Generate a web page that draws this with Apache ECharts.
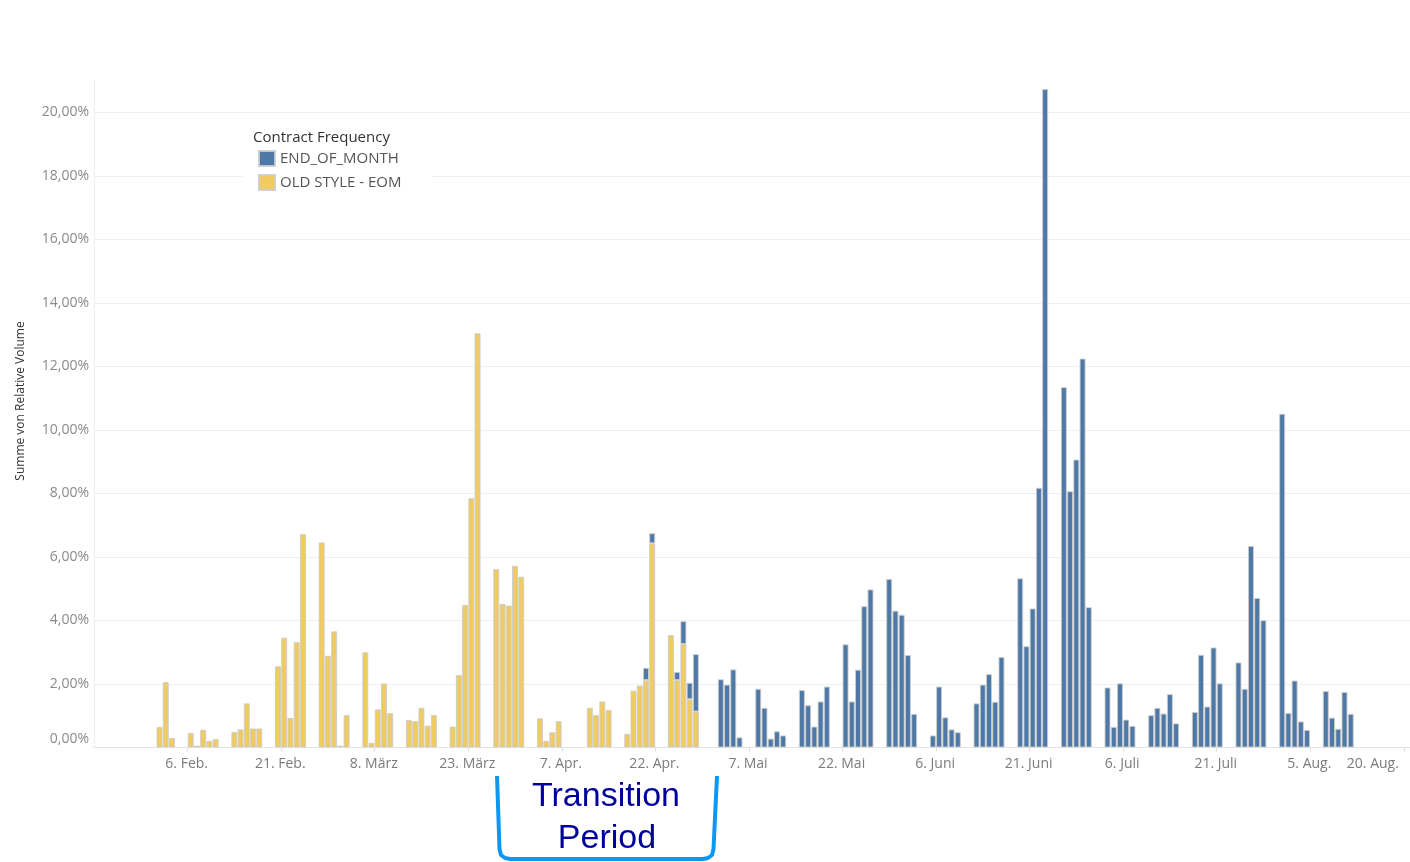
<!DOCTYPE html>
<html>
<head>
<meta charset="utf-8">
<title>Relative Volume by Contract Frequency</title>
<script src="https://cdn.jsdelivr.net/npm/echarts@6/dist/echarts.min.js"></script>
<style>
  html, body { margin: 0; padding: 0; background: #fff; }
  #chart { width: 1410px; height: 862px; }
</style>
</head>
<body>
<div id="chart"></div>
<script>
// trading days (2023), holidays 7.4, 10.4, 1.5 have no bars
const year = 2023;
const dates = [
  '02-01', '02-02', '02-03', '02-06', '02-07', '02-08', '02-09', '02-10',
  '02-13', '02-14', '02-15', '02-16', '02-17', '02-20', '02-21', '02-22', '02-23', '02-24',
  '02-27', '02-28', '03-01', '03-02', '03-03', '03-06', '03-07', '03-08', '03-09', '03-10',
  '03-13', '03-14', '03-15', '03-16', '03-17', '03-20', '03-21', '03-22', '03-23', '03-24',
  '03-27', '03-28', '03-29', '03-30', '03-31', '04-03', '04-04', '04-05', '04-06',
  '04-11', '04-12', '04-13', '04-14', '04-17', '04-18', '04-19', '04-20', '04-21',
  '04-24', '04-25', '04-26', '04-27', '04-28', '05-02', '05-03', '05-04', '05-05',
  '05-08', '05-09', '05-10', '05-11', '05-12', '05-15', '05-16', '05-17', '05-18', '05-19',
  '05-22', '05-23', '05-24', '05-25', '05-26', '05-29', '05-30', '05-31', '06-01', '06-02',
  '06-05', '06-06', '06-07', '06-08', '06-09', '06-12', '06-13', '06-14', '06-15', '06-16',
  '06-19', '06-20', '06-21', '06-22', '06-23', '06-26', '06-27', '06-28', '06-29', '06-30',
  '07-03', '07-04', '07-05', '07-06', '07-07', '07-10', '07-11', '07-12', '07-13', '07-14',
  '07-17', '07-18', '07-19', '07-20', '07-21', '07-24', '07-25', '07-26', '07-27', '07-28',
  '07-31', '08-01', '08-02', '08-03', '08-04', '08-07', '08-08', '08-09', '08-10', '08-11'
];

// OLD STYLE - EOM, in %, 1.2. to 28.4. (nothing after)
const oldStyle = [
  0.65, 2.06, 0.30, 0.46, 0.06, 0.56, 0.21, 0.27,
  0.49, 0.57, 1.39, 0.60, 0.60, 2.56, 3.46, 0.93, 3.32, 6.72,
  6.46, 2.89, 3.66, 0.06, 1.02, 3.00, 0.15, 1.20, 2.02, 1.08,
  0.87, 0.83, 1.25, 0.69, 1.02, 0.66, 2.28, 4.49, 7.85, 13.05,
  5.62, 4.52, 4.47, 5.72, 5.38, 0.92, 0.21, 0.48, 0.83,
  1.25, 1.02, 1.45, 1.18, 0.43, 1.79, 1.95, 2.12, 6.43,
  3.54, 2.12, 3.26, 1.52, 1.13
];

// END_OF_MONTH, in %, starts 20.4.
const endOfMonth = [
  null, null, null, null, null, null, null, null,
  null, null, null, null, null, null, null, null, null, null,
  null, null, null, null, null, null, null, null, null, null,
  null, null, null, null, null, null, null, null, null, null,
  null, null, null, null, null, null, null, null, null,
  null, null, null, null, null, null, null, 0.39, 0.32,
  null, 0.26, 0.72, 0.52, 1.81, 2.15, 1.98, 2.46, 0.32,
  1.85, 1.25, 0.28, 0.51, 0.38, 1.81, 1.33, 0.66, 1.45, 1.92,
  3.25, 1.45, 2.45, 4.45, 4.98, 5.31, 4.31, 4.18, 2.91, 1.06,
  0.38, 1.92, 0.95, 0.57, 0.48, 1.39, 1.98, 2.31, 1.44, 2.85,
  5.33, 3.19, 4.38, 8.18, 20.74, 11.35, 8.07, 9.07, 12.25, 4.42,
  1.89, 0.65, 2.02, 0.88, 0.68, 1.02, 1.25, 1.07, 1.68, 0.76,
  1.12, 2.92, 1.29, 3.15, 2.02, 2.68, 1.85, 6.35, 4.71, 4.01,
  10.51, 1.09, 2.11, 0.82, 0.55, 1.78, 0.94, 0.59, 1.75, 1.06
];

// axis: one category per calendar day, 22.1. to 20.8., label every 15 days from 6.2.
const axisStart = Date.UTC(year, 0, 22);
const axisDays = 211;
const firstTick = 15;   // index of 6. Feb.
const tickStep = 15;
const monthNames = ['Jan.', 'Feb.', 'März', 'Apr.', 'Mai', 'Juni', 'Juli', 'Aug.', 'Sept.', 'Okt.', 'Nov.', 'Dez.'];

const FONT = '"Open Sans", "DejaVu Sans", sans-serif';
const BLUE = '#4e79a7';
const YELLOW = '#efcb62';

function dayIndex(md) {
  const [m, d] = md.split('-').map(Number);
  return Math.round((Date.UTC(year, m - 1, d) - axisStart) / 864e5);
}

const days = [];
for (let i = 0; i < axisDays; i++) {
  const dt = new Date(axisStart + i * 864e5);
  days.push(dt.getUTCDate() + '. ' + monthNames[dt.getUTCMonth()]);
}

// spread the trading-day values over the calendar axis
const oldData = new Array(axisDays).fill(null);
const eomData = new Array(axisDays).fill(null);
dates.forEach((d, i) => {
  const k = dayIndex(d);
  if (oldStyle[i] != null) oldData[k] = oldStyle[i];
  if (endOfMonth[i] != null) eomData[k] = endOfMonth[i];
});

const showTick = idx => idx >= firstTick && (idx - firstTick) % tickStep === 0;

function fmtPct(v) {
  if (v % 2 !== 0) return '';
  const s = v.toFixed(2).replace('.', ',') + '%';
  return v === 0 ? '{low|' + s + '}' : s;
}

const chart = echarts.init(document.getElementById('chart'));

const barStyle = color => ({
  color: color,
  borderColor: 'rgba(205,205,205,0.9)',
  borderWidth: 1
});

const textEl = (text, x, y, font, fill) => ({
  type: 'text',
  x: x,
  y: y,
  style: {
    text: text,
    fill: fill,
    font: font,
    textAlign: 'center',
    textVerticalAlign: 'middle',
    align: 'center',
    verticalAlign: 'middle'
  }
});

const yTitle = textEl('Summe von Relative Volume', 21, 401, '12px ' + FONT, '#333');
yTitle.rotation = Math.PI / 2;

const option = {
  animation: false,
  textStyle: { fontFamily: FONT },
  title: {
    text: 'Contract Frequency',
    left: 248,
    top: 125,
    textStyle: { fontSize: 15, fontWeight: 'normal', color: '#333', fontFamily: FONT }
  },
  legend: {
    orient: 'vertical',
    left: 243,
    top: 120,
    padding: [30, 30, 6, 15],
    backgroundColor: '#fff',
    itemWidth: 16,
    itemHeight: 15,
    itemGap: 7,
    icon: 'rect',
    data: ['END_OF_MONTH', 'OLD STYLE - EOM'],
    textStyle: { fontSize: 15, color: '#555', fontFamily: FONT }
  },
  grid: { left: 94, right: 0, top: 80.75, bottom: 114.5, containLabel: false, outerBoundsMode: 'none' },
  xAxis: {
    type: 'category',
    data: days,
    boundaryGap: true,
    axisLine: { show: true, lineStyle: { color: '#e4e4e4' } },
    axisTick: { show: true, length: 4, interval: showTick, alignWithLabel: false, lineStyle: { color: '#ddd' } },
    splitLine: { show: false },
    axisLabel: {
      interval: showTick,
      alignMaxLabel: 'right',
      color: '#7b7b7b',
      fontSize: 14,
      margin: 10,
      padding: [0, 8, 0, 0],
      fontFamily: FONT
    }
  },
  yAxis: {
    type: 'value',
    min: 0,
    max: 21,
    interval: 2,
    axisLine: { show: true, lineStyle: { color: '#eeeeee' } },
    axisTick: { show: false },
    splitLine: { showMaxLine: false, lineStyle: { color: '#f0f0f0' } },
    axisLabel: {
      formatter: fmtPct,
      color: '#8a8a8a',
      fontSize: 14,
      margin: 5,
      fontFamily: FONT,
      rich: {
        low: { color: '#8a8a8a', fontSize: 14, fontFamily: FONT, padding: [0, 0, 16, 0] }
      }
    }
  },
  series: [
    {
      name: 'OLD STYLE - EOM',
      type: 'bar',
      stack: 'volume',
      barWidth: 6,
      itemStyle: barStyle(YELLOW),
      data: oldData
    },
    {
      name: 'END_OF_MONTH',
      type: 'bar',
      stack: 'volume',
      barWidth: 6,
      itemStyle: barStyle(BLUE),
      data: eomData
    }
  ],
  graphic: [
    yTitle,
    // "Transition Period" bracket under the axis
    {
      type: 'polyline',
      shape: {
        points: [[497, 776], [499.5, 849], [501, 855], [505, 858], [510, 859],
                 [703, 859], [708, 858], [712, 855], [713.5, 849], [717, 776]]
      },
      style: { fill: null, stroke: '#0b98f2', lineWidth: 4, lineJoin: 'round' }
    },
    textEl('Transition', 606, 797, '34px "Liberation Sans", Arial, sans-serif', '#00009a'),
    textEl('Period', 607, 839, '34px "Liberation Sans", Arial, sans-serif', '#00009a')
  ]
};

chart.setOption(option);
</script>
</body>
</html>
